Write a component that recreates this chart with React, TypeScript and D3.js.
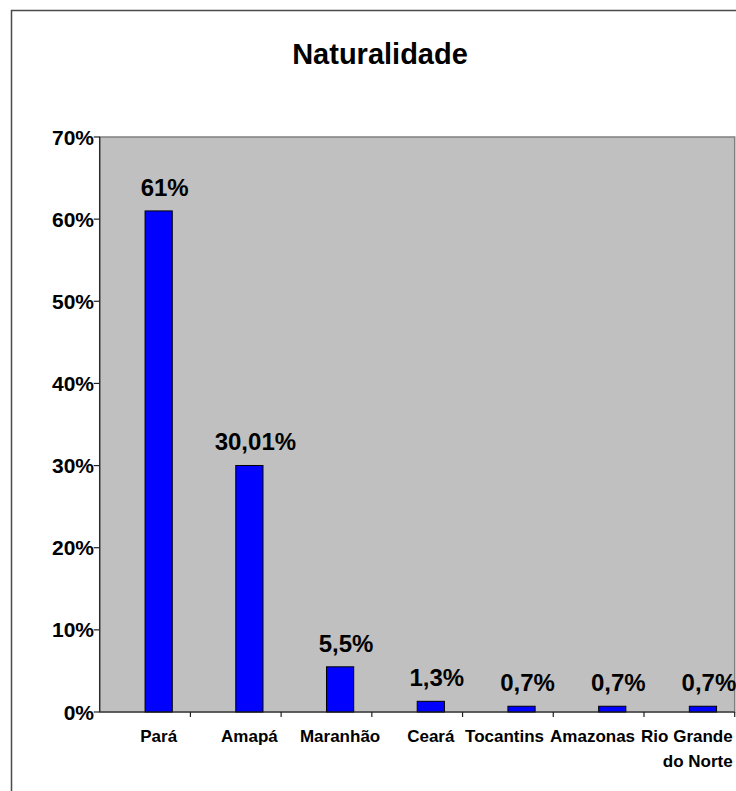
import React from "react";
import * as d3 from "d3";

const title = "Naturalidade";
const categories = ["Pará", "Amapá", "Maranhão", "Ceará", "Tocantins", "Amazonas", "Rio Grande do Norte"];
const categoryLines = [["Pará"], ["Amapá"], ["Maranhão"], ["Ceará"], ["Tocantins"], ["Amazonas"], ["Rio Grande", "do Norte"]];
const values = [61, 30.01, 5.5, 1.3, 0.7, 0.7, 0.7];
const valueLabels = ["61%", "30,01%", "5,5%", "1,3%", "0,7%", "0,7%", "0,7%"];
const yTicks = [0, 10, 20, 30, 40, 50, 60, 70];
const yTickLabels = ["0%", "10%", "20%", "30%", "40%", "50%", "60%", "70%"];

const FONT = "'Liberation Sans', Arial, sans-serif";

function measure(text: string, size: number): number {
  const c = document.createElement("canvas");
  const ctx = c.getContext("2d");
  if (!ctx) return text.length * size * 0.55;
  ctx.font = `bold ${size}px 'Liberation Sans', Arial, sans-serif`;
  return ctx.measureText(text).width;
}

export default function App() {
  const W = 736;
  const H = 791;
  const plot = { left: 99.7, right: 734.7, top: 137, bottom: 712 };

  const x = d3.scaleBand<string>().domain(categories).range([plot.left, plot.right]).padding(0);
  const bw = x.bandwidth();
  const barW = bw * 0.3;
  const barShift = bw * 0.15;
  const y = d3.scaleLinear().domain([0, 70]).range([plot.bottom, plot.top]);

  const catSize = 17;
  const catBaseline = plot.bottom + 30;
  const lineGap = 25;

  // label layout: centered under bars, pushed left when they would collide
  const centers = categories.map((c) => (x(c) as number) + bw / 2 + barShift);
  const widths = categoryLines.map((ls) => Math.max(...ls.map((l) => measure(l, catSize))));
  const rights: number[] = new Array(categories.length);
  let limit = plot.right - 2;
  for (let i = categories.length - 1; i >= 0; i--) {
    const r = Math.min(centers[i] + widths[i] / 2, limit);
    rights[i] = r;
    limit = r - widths[i] - 6;
  }

  return (
    <svg
      width={W}
      height={H}
      style={{ position: "absolute", left: 0, top: 0, background: "#fff" }}
      fontFamily={FONT}
    >
      <rect x={11.5} y={10.5} width={760} height={820} fill="#fff" stroke="#4a4a4a" strokeWidth={1.5} />
      <text x={380} y={64} textAnchor="middle" fontSize={29} fontWeight="bold" fill="#000">
        {title}
      </text>

      <rect
        x={plot.left}
        y={plot.top}
        width={plot.right - plot.left}
        height={plot.bottom - plot.top}
        fill="#c0c0c0"
        stroke="#808080"
        strokeWidth={1.5}
      />

      {categories.map((c, i) => {
        const cx = centers[i];
        return (
          <rect
            key={c}
            x={cx - barW / 2}
            y={y(values[i])}
            width={barW}
            height={plot.bottom - y(values[i])}
            fill="#0000ff"
            stroke="#000"
            strokeWidth={1}
          />
        );
      })}

      {categories.map((c, i) => (
        <text
          key={c}
          x={centers[i] + 6}
          y={y(values[i]) - 15}
          textAnchor="middle"
          fontSize={24}
          fontWeight="bold"
          fill="#000"
        >
          {valueLabels[i]}
        </text>
      ))}

      {/* y axis */}
      <line x1={plot.left} x2={plot.left} y1={plot.top} y2={plot.bottom} stroke="#222" strokeWidth={1.2} />
      {yTicks.map((t, i) => (
        <g key={t}>
          <line x1={plot.left - 6} x2={plot.left} y1={y(t)} y2={y(t)} stroke="#222" strokeWidth={1.2} />
          <text x={94} y={y(t) + 7.5} textAnchor="end" fontSize={21} fontWeight="bold" fill="#000">
            {yTickLabels[i]}
          </text>
        </g>
      ))}

      {/* x axis */}
      <line x1={plot.left} x2={plot.right} y1={plot.bottom} y2={plot.bottom} stroke="#222" strokeWidth={1.2} />
      {categories.map((c) => (
        <line
          key={c}
          x1={(x(c) as number) + bw}
          x2={(x(c) as number) + bw}
          y1={plot.bottom}
          y2={plot.bottom + 5}
          stroke="#222"
          strokeWidth={1.2}
        />
      ))}

      {categoryLines.map((ls, i) => (
        <text key={i} fontSize={catSize} fontWeight="bold" fill="#000" textAnchor="end">
          {ls.map((l, j) => (
            <tspan key={j} x={rights[i]} y={catBaseline + j * lineGap}>
              {l}
            </tspan>
          ))}
        </text>
      ))}
    </svg>
  );
}
